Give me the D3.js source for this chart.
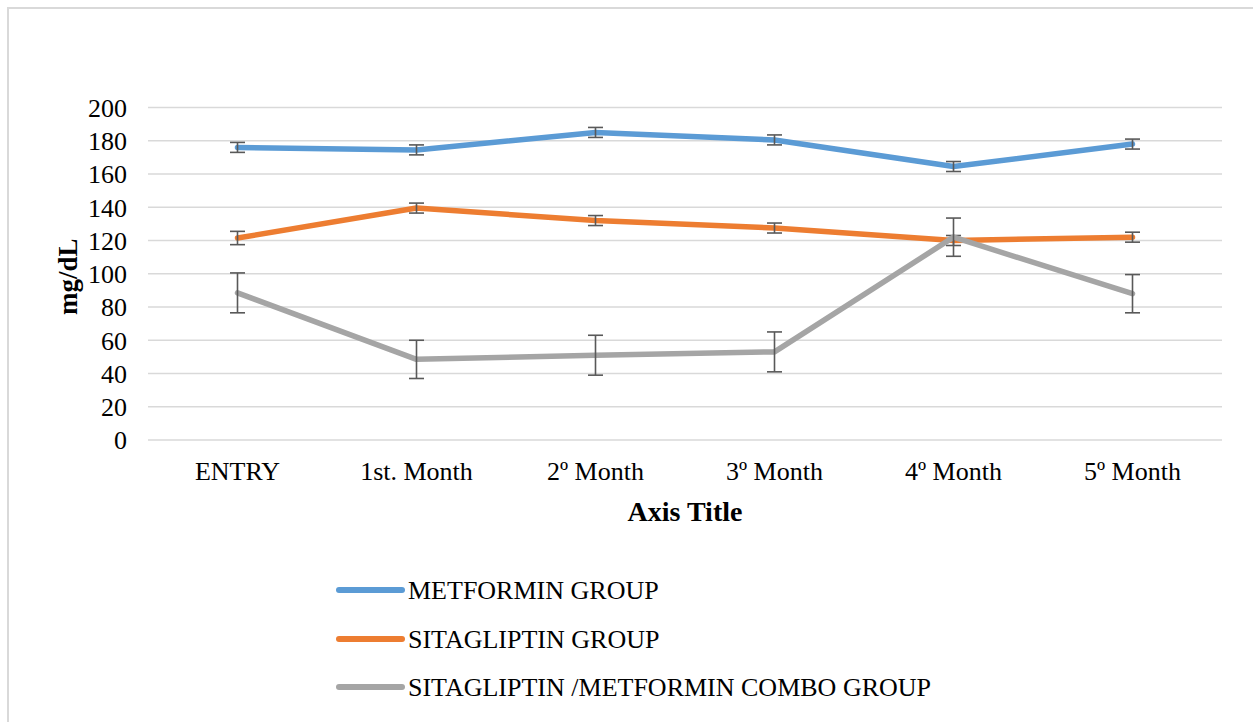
<!DOCTYPE html>
<html>
<head>
<meta charset="utf-8">
<script src="https://cdn.jsdelivr.net/npm/d3@7"></script>
<style>
  html, body { margin: 0; padding: 0; background: #fff; }
  svg text { font-family: "Liberation Serif", "Times New Roman", serif; fill: #000; }
</style>
</head>
<body>
<div id="chart"></div>
<script>
// categories and series (mg/dL), error = +/- half bar height
const categories = ['ENTRY', '1st. Month', '2º Month', '3º Month', '4º Month', '5º Month'];
const yTicks = [0, 20, 40, 60, 80, 100, 120, 140, 160, 180, 200];
const seriesNames = ['METFORMIN GROUP', 'SITAGLIPTIN GROUP', 'SITAGLIPTIN /METFORMIN COMBO GROUP'];
const metforminValues = [176, 174.5, 185, 180.5, 164.5, 178];
const metforminErrors = [3, 3, 3, 3, 3, 3];
const sitagliptinValues = [121.5, 139.5, 132, 127.5, 120, 122];
const sitagliptinErrors = [4, 3, 3, 3, 3, 3];
const comboValues = [88.5, 48.5, 51, 53, 122, 88];
const comboErrors = [12, 11.5, 12, 12, 11.5, 11.5];
const seriesColors = ['#5B9BD5', '#ED7D31', '#A5A5A5'];

const width = 1253, height = 722;
const margin = { top: 107.5, right: 31, bottom: 282, left: 148 };

const svg = d3.select('#chart').append('svg')
  .attr('width', width)
  .attr('height', height);

// outer chart border (cut by the picture edge on right/bottom)
svg.append('rect')
  .attr('x', 8).attr('y', 8)
  .attr('width', width + 20).attr('height', height + 20)
  .attr('fill', '#fff')
  .attr('stroke', '#d9d9d9')
  .attr('stroke-width', 2);

const x = d3.scaleBand()
  .domain(categories)
  .range([margin.left, width - margin.right]);

const y = d3.scaleLinear()
  .domain([0, 200])
  .range([height - margin.bottom, margin.top]);

// gridlines
svg.append('g')
  .selectAll('line')
  .data(yTicks)
  .join('line')
  .attr('x1', margin.left)
  .attr('x2', width - margin.right)
  .attr('y1', d => y(d))
  .attr('y2', d => y(d))
  .attr('stroke', '#d9d9d9')
  .attr('stroke-width', 1.5);

// y axis labels
const yAxis = svg.append('g')
  .attr('transform', `translate(${margin.left - 21},0)`)
  .call(d3.axisLeft(y).tickValues(yTicks).tickSize(0).tickPadding(0));
yAxis.select('.domain').remove();
yAxis.selectAll('text')
  .attr('font-size', 26)
  .attr('font-family', '"Liberation Serif", serif')
  .attr('fill', '#000')
  .attr('dy', '0.34em');

// x axis labels
const xAxis = svg.append('g')
  .attr('transform', `translate(0,${y(0)})`)
  .call(d3.axisBottom(x).tickSize(0).tickPadding(0));
xAxis.select('.domain').remove();
xAxis.selectAll('text')
  .attr('font-size', 26)
  .attr('font-family', '"Liberation Serif", serif')
  .attr('fill', '#000')
  .attr('y', 40)
  .attr('dy', 0);

// axis titles
svg.append('text')
  .attr('x', 685)
  .attr('y', 521)
  .attr('text-anchor', 'middle')
  .attr('font-size', 28)
  .attr('font-weight', 'bold')
  .text('Axis Title');

svg.append('text')
  .attr('transform', `translate(77,${(y(0) + y(200)) / 2 + 3}) rotate(-90)`)
  .attr('text-anchor', 'middle')
  .attr('font-size', 27)
  .attr('font-weight', 'bold')
  .text('mg/dL');

const series = [
  { name: seriesNames[0], values: metforminValues, errors: metforminErrors, color: seriesColors[0] },
  { name: seriesNames[1], values: sitagliptinValues, errors: sitagliptinErrors, color: seriesColors[1] },
  { name: seriesNames[2], values: comboValues, errors: comboErrors, color: seriesColors[2] }
];

const cx = c => x(c) + x.bandwidth() / 2;
const line = d3.line()
  .x((d, i) => cx(categories[i]))
  .y(d => y(d));

series.forEach(s => {
  svg.append('path')
    .datum(s.values)
    .attr('d', line)
    .attr('fill', 'none')
    .attr('stroke', s.color)
    .attr('stroke-width', 5.5)
    .attr('stroke-linejoin', 'round')
    .attr('stroke-linecap', 'round');

  const eb = svg.append('g').attr('stroke', '#595959').attr('stroke-width', 1.6);
  s.values.forEach((v, i) => {
    const px = cx(categories[i]);
    const top = y(v + s.errors[i]), bot = y(v - s.errors[i]);
    eb.append('line').attr('x1', px).attr('x2', px).attr('y1', top).attr('y2', bot);
    eb.append('line').attr('x1', px - 7.5).attr('x2', px + 7.5).attr('y1', top).attr('y2', top);
    eb.append('line').attr('x1', px - 7.5).attr('x2', px + 7.5).attr('y1', bot).attr('y2', bot);
  });
});

// legend
const legend = svg.append('g');
const legendY = [590, 639, 687];
series.forEach((s, i) => {
  const g = legend.append('g').attr('transform', `translate(0,${legendY[i]})`);
  g.append('line')
    .attr('x1', 339).attr('x2', 402)
    .attr('stroke', s.color)
    .attr('stroke-width', 6)
    .attr('stroke-linecap', 'round');
  g.append('text')
    .attr('x', 408)
    .attr('dy', '0.34em')
    .attr('font-size', 26)
    .text(s.name);
});
</script>
</body>
</html>
